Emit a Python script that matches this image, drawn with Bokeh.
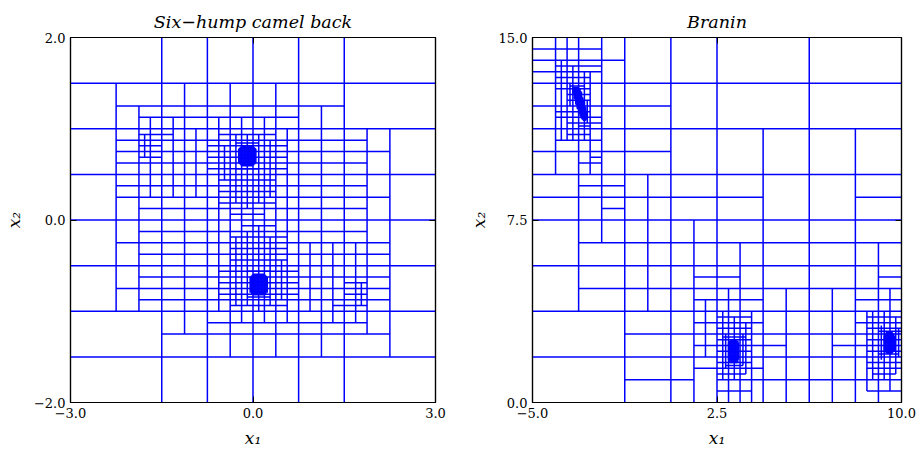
from bokeh.plotting import figure
from bokeh.layouts import row
from bokeh.models import FixedTicker, Range1d, ColumnDataSource, LinearAxis
from bokeh.embed import file_html
from bokeh.resources import INLINE

# search boxes: (x low, x high, y low, y high)
camel_box = (-3.0, 3.0, -2.0, 2.0)
branin_box = (-5.0, 10.0, 0.0, 15.0)

# partition edges, in 1/32 steps of the box
# vertical edges: (x step, top step, bottom step); y steps counted from the top
camel_v = [
    (8, 0, 32), (12, 0, 32), (16, 0, 32), (20, 0, 32), (24, 0, 32),
    (4, 4, 24), (28, 8, 28), (6, 6, 24), (26, 8, 26), (10, 4, 26), (22, 6, 28),
    (14, 4, 28), (18, 4, 28), (7, 7, 14), (25, 18, 25), (9, 7, 14), (23, 18, 25),
    (11, 8, 14), (21, 18, 24), (13, 7, 24), (19, 8, 25), (15, 7, 25), (17, 7, 25),
    (13.5, 9.5, 12.5), (14.5, 8.5, 14.5), (15.5, 8.5, 15), (16.5, 8.5, 14.5), (17.5, 9, 14),
    (14.5, 17.5, 23.5), (15.5, 17, 23.5), (16.5, 16.5, 24), (17.5, 17.5, 23.5), (18.5, 19.5, 23),
    (6.5, 8.5, 10.5), (25.5, 21.5, 23.5),
    # upper minimum
    (14.75, 9.75, 11.0), (14.875, 9.625, 11.125),
    (15.0, 9.5, 11.25), (15.125, 9.5, 11.25), (15.25, 9.5, 11.25), (15.375, 9.5, 11.25),
    (15.625, 9.5, 11.25), (15.75, 9.5, 11.25), (15.875, 9.5, 11.25), (16.0, 9.5, 11.25),
    (16.125, 9.625, 11.125), (16.25, 9.75, 11.0),
    # lower minimum
    (15.75, 21.0, 22.375), (15.875, 20.875, 22.5),
    (16.0, 20.75, 22.625), (16.125, 20.75, 22.625), (16.25, 20.75, 22.625), (16.375, 20.75, 22.625),
    (16.625, 20.75, 22.625), (16.75, 20.75, 22.625), (16.875, 20.75, 22.625), (17.0, 20.75, 22.625),
    (17.125, 20.875, 22.5), (17.25, 21.0, 22.375),
]
# horizontal edges: (y step from top, left step, right step)
camel_h = [
    (4, 0, 32), (8, 0, 32), (12, 0, 32), (16, 0, 32), (20, 0, 32), (24, 0, 32), (28, 0, 32),
    (6, 4, 24), (26, 8, 28), (7, 6, 20), (25, 12, 26),
    (9, 4, 26), (11, 4, 26), (13, 4, 26), (15, 6, 26), (10, 4, 28), (14, 4, 28),
    (17, 6, 26), (19, 6, 28), (21, 6, 28), (23, 6, 28), (18, 4, 28), (22, 4, 28),
    (8.5, 13, 18), (9.5, 12, 19), (10.5, 12, 19), (11.5, 12, 19), (12.5, 13, 18),
    (13.5, 13, 18), (14.5, 13, 18), (15.5, 14, 17),
    (16.5, 15, 18), (17.5, 14, 19), (18.5, 14, 19), (19.5, 14, 19), (20.5, 13, 20),
    (21.5, 13, 20), (22.5, 13, 20), (23.5, 14, 19),
    (8.5, 6, 9), (9.5, 6, 8), (10.5, 6, 8), (21.5, 24, 26), (22.5, 24, 26), (23.5, 23, 26),
    (9.25, 14.5, 16.5), (11.5, 14.5, 16.5), (20.5, 15.5, 17.5), (22.75, 15.5, 17.5),
    # upper minimum
    (9.5, 15.0, 16.0), (9.625, 14.875, 16.125),
    (9.75, 14.75, 16.25), (9.875, 14.75, 16.25), (10.0, 14.75, 16.25), (10.125, 14.75, 16.25),
    (10.25, 14.75, 16.25), (10.375, 14.75, 16.25), (10.5, 14.75, 16.25), (10.625, 14.75, 16.25),
    (10.75, 14.75, 16.25), (10.875, 14.75, 16.25), (11.0, 14.75, 16.25),
    (11.125, 14.875, 16.125), (11.25, 15.0, 16.0),
    # lower minimum
    (20.75, 16.0, 17.0), (20.875, 15.875, 17.125),
    (21.0, 15.75, 17.25), (21.125, 15.75, 17.25), (21.25, 15.75, 17.25), (21.375, 15.75, 17.25),
    (21.5, 15.75, 17.25), (21.625, 15.75, 17.25), (21.75, 15.75, 17.25), (21.875, 15.75, 17.25),
    (22.0, 15.75, 17.25), (22.125, 15.75, 17.25), (22.25, 15.75, 17.25),
    (22.375, 15.875, 17.125), (22.5, 16.0, 17.0),
]

branin_v = [
    (2, 0, 12), (3, 0, 9), (4, 0, 24), (5, 3, 12), (6, 0, 18), (8, 0, 32), (10, 12, 24),
    (12, 0, 32), (14, 16, 32), (15, 23, 28), (16, 0, 32), (17, 22, 32), (18, 18, 32),
    (19, 24, 32), (20, 8, 32), (22, 22, 32), (24, 0, 32), (26, 22, 32), (28, 8, 32),
    (29, 24, 31), (30, 18, 32), (31, 22, 31),
    (2.5, 2, 9), (3.5, 2.5, 9), (4.5, 3, 9), (3.25, 4, 6), (4.75, 5.5, 7.5),
    # minimum near (-pi, 12.3)
    (3.5, 4.375, 4.875), (3.625, 4.375, 5.375), (3.75, 4.375, 5.875), (3.875, 4.5, 6.25),
    (4.0, 4.375, 6.625), (4.125, 4.5, 6.875), (4.25, 4.75, 7.125), (4.375, 5.25, 7.25),
    (4.5, 5.625, 7.125), (4.625, 6.125, 7.25), (4.75, 6.625, 7.125),
    (16.5, 24, 30), (17.5, 24.5, 30), (18.5, 25, 29.5), (16.75, 26, 29), (18.25, 26, 28.75),
    # minimum near (pi, 2.3)
    (17.0, 26.75, 28.25), (17.125, 26.625, 28.375), (17.25, 26.5, 28.5), (17.375, 26.5, 28.5),
    (17.5, 26.5, 28.5), (17.625, 26.5, 28.5), (17.75, 26.625, 28.375), (17.875, 26.75, 28.25),
    (29.5, 24, 30), (30.5, 24, 30), (31.5, 24.5, 29.5), (30.25, 25.25, 28.25), (31.75, 25.5, 28),
    # minimum near (9.42, 2.5)
    (30.5, 26.125, 27.5), (30.625, 26.0, 27.625), (30.75, 25.875, 27.75), (30.875, 25.875, 27.75),
    (31.0, 25.875, 27.75), (31.125, 25.875, 27.75), (31.25, 26.0, 27.625), (31.375, 26.125, 27.5),
]
branin_h = [
    (4, 0, 32), (8, 0, 32), (12, 0, 32), (16, 0, 32), (20, 0, 32), (24, 0, 32), (28, 0, 32),
    (1, 0, 6), (2, 0, 8), (3, 0, 6), (6, 0, 12), (10, 0, 12), (9, 2, 6), (5, 3, 5), (7, 2, 6),
    (11, 4, 6), (10.5, 5, 6), (13, 4, 8), (15, 6, 8), (14, 0, 20), (14, 28, 32),
    (18, 4, 32), (22, 4, 32), (26, 8, 32), (30, 8, 14), (30, 16, 32),
    (21, 14, 18), (21, 30, 32), (23, 14, 20), (23, 28, 32), (25, 14, 20), (25, 28, 32),
    (27, 14, 22), (27, 26, 32), (29, 14, 20), (29, 29, 32), (31, 16, 19), (31, 29, 32),
    (2.5, 2, 6), (3.5, 2, 5), (4.5, 2, 5), (5.5, 3, 5), (6.5, 2, 5), (7.5, 3, 6), (8.5, 3, 5),
    (4.25, 3.25, 4.5), (7.75, 4.0, 5.0),
    # minimum near (-pi, 12.3)
    (4.375, 3.5, 4.0), (4.5, 3.5, 4.125), (4.625, 3.5, 4.125), (4.75, 3.5, 4.25),
    (4.875, 3.5, 4.25), (5.0, 3.625, 4.25), (5.125, 3.625, 4.25), (5.25, 3.625, 4.375),
    (5.375, 3.625, 4.375), (5.5, 3.75, 4.375), (5.625, 3.75, 4.5), (5.75, 3.75, 4.5),
    (5.875, 3.75, 4.5), (6.0, 3.875, 4.5), (6.125, 3.875, 4.625), (6.25, 3.875, 4.625),
    (6.375, 4.0, 4.625), (6.5, 4.0, 4.625), (6.625, 4.0, 4.75), (6.75, 4.125, 4.75),
    (6.875, 4.125, 4.75), (7.0, 4.25, 4.75), (7.125, 4.25, 4.75), (7.25, 4.375, 4.625),
    (24.5, 16, 19), (25.5, 16, 19), (26.5, 16, 19), (27.5, 16, 19), (28.5, 16, 19), (29.5, 16, 18.5),
    (26.25, 16.5, 18.5), (28.75, 16.75, 18.25),
    # minimum near (pi, 2.3)
    (26.5, 17.125, 17.75), (26.625, 17.0, 17.875), (26.75, 17.0, 17.875), (26.875, 17.0, 17.875),
    (27.0, 17.0, 17.875), (27.125, 17.0, 17.875), (27.25, 17.0, 17.875), (27.375, 17.0, 17.875),
    (27.5, 17.0, 17.875), (27.625, 17.0, 17.875), (27.75, 17.0, 17.875), (27.875, 17.0, 17.875),
    (28.0, 17.0, 17.875), (28.125, 17.0, 17.875), (28.25, 17.0, 17.875), (28.375, 17.0, 17.875),
    (28.5, 17.125, 17.75),
    (24.5, 29, 32), (25.5, 29, 32), (26.5, 29, 32), (27.5, 29, 32), (28.5, 29, 32), (29.5, 29.5, 31.5),
    (25.75, 30, 32), (27.75, 30, 31.75),
    # minimum near (9.42, 2.5)
    (25.875, 30.625, 31.25), (26.0, 30.5, 31.375), (26.125, 30.5, 31.375), (26.25, 30.5, 31.375),
    (26.375, 30.5, 31.375), (26.5, 30.5, 31.375), (26.625, 30.5, 31.375), (26.75, 30.5, 31.375),
    (26.875, 30.5, 31.375), (27.0, 30.5, 31.375), (27.125, 30.5, 31.375), (27.25, 30.5, 31.375),
    (27.375, 30.5, 31.375), (27.5, 30.5, 31.375), (27.625, 30.625, 31.25),
]

camel_xticks = [-3.0, 0.0, 3.0]
camel_yticks = [-2.0, 0.0, 2.0]
camel_xlabels = ["\u22123.0", "0.0", "3.0"]
camel_ylabels = ["\u22122.0", "0.0", "2.0"]
branin_xticks = [-5.0, 2.5, 10.0]
branin_yticks = [0.0, 7.5, 15.0]
branin_xlabels = ["\u22125.0", "2.5", "10.0"]
branin_ylabels = ["0.0", "7.5", "15.0"]

SERIF = "DejaVu Serif"


def edges(box, vs, hs):
    xl, xh, yl, yh = box
    sx = (xh - xl) / 32.0
    sy = (yh - yl) / 32.0
    x0, y0, x1, y1 = [], [], [], []
    for g, a, b in vs:
        x0.append(xl + g * sx); x1.append(xl + g * sx)
        y0.append(yh - a * sy); y1.append(yh - b * sy)
    for g, a, b in hs:
        y0.append(yh - g * sy); y1.append(yh - g * sy)
        x0.append(xl + a * sx); x1.append(xl + b * sx)
    return ColumnDataSource(dict(x0=x0, y0=y0, x1=x1, y1=y1))


def tick_only_axis(ticks):
    # mirror axis: inward ticks only, its labels are not painted
    return LinearAxis(ticker=FixedTicker(ticks=ticks), major_label_text_font_size="1px",
                      major_label_text_color=None, major_label_standoff=0,
                      major_tick_in=6, major_tick_out=0, minor_tick_line_color=None,
                      axis_line_color="black", axis_line_width=1.2,
                      major_tick_line_color="black")


def panel(box, vs, hs, title, xt, xl, yt, yl, w, left, right):
    p = figure(width=w, height=450, output_backend="svg", toolbar_location=None,
               x_range=Range1d(box[0], box[1]), y_range=Range1d(box[2], box[3]),
               min_border_left=left, min_border_right=right,
               min_border_top=37, min_border_bottom=45, title=title)
    p.title.text_font = SERIF
    p.title.text_font_style = "italic"
    p.title.text_font_size = "17.5px"
    p.title.align = "center"
    p.title.text_color = "black"
    p.title.standoff = 11
    p.segment("x0", "y0", "x1", "y1", source=edges(box, vs, hs),
              line_color="#0000ff", line_width=1.5)
    p.grid.visible = False
    p.outline_line_color = "black"
    p.outline_line_width = 1.2
    p.background_fill_color = "white"
    p.border_fill_color = "white"
    for ax, ticks, labels, name in ((p.xaxis[0], xt, xl, "x\u2081"), (p.yaxis[0], yt, yl, "x\u2082")):
        ax.ticker = FixedTicker(ticks=ticks)
        ax.major_label_overrides = {t: s for t, s in zip(ticks, labels)}
        ax.minor_tick_line_color = None
        ax.major_tick_in = 6
        ax.major_tick_out = 0
        ax.major_tick_line_color = "black"
        ax.axis_line_color = "black"
        ax.axis_line_width = 1.2
        ax.major_label_text_font = SERIF
        ax.major_label_text_font_size = "13px"
        ax.major_label_text_color = "black"
        ax.axis_label = name
        ax.axis_label_text_font = SERIF
        ax.axis_label_text_font_style = "italic"
        ax.axis_label_text_font_size = "17px"
        ax.axis_label_text_color = "black"
        ax.major_label_standoff = 5
        ax.axis_label_standoff = 7
    p.yaxis[0].major_label_orientation = "horizontal"
    p.add_layout(tick_only_axis(xt), "above")
    p.add_layout(tick_only_axis(yt), "right")
    return p


p1 = panel(camel_box, camel_v, camel_h, "Six\u2212hump camel back",
           camel_xticks, camel_xlabels, camel_yticks, camel_ylabels, 461, 67, 26)
p2 = panel(branin_box, branin_v, branin_h, "Branin",
           branin_xticks, branin_xlabels, branin_yticks, branin_ylabels, 461, 71, 21)

layout = row(p1, p2)
open("out.html", "w").write(file_html(layout, INLINE))
